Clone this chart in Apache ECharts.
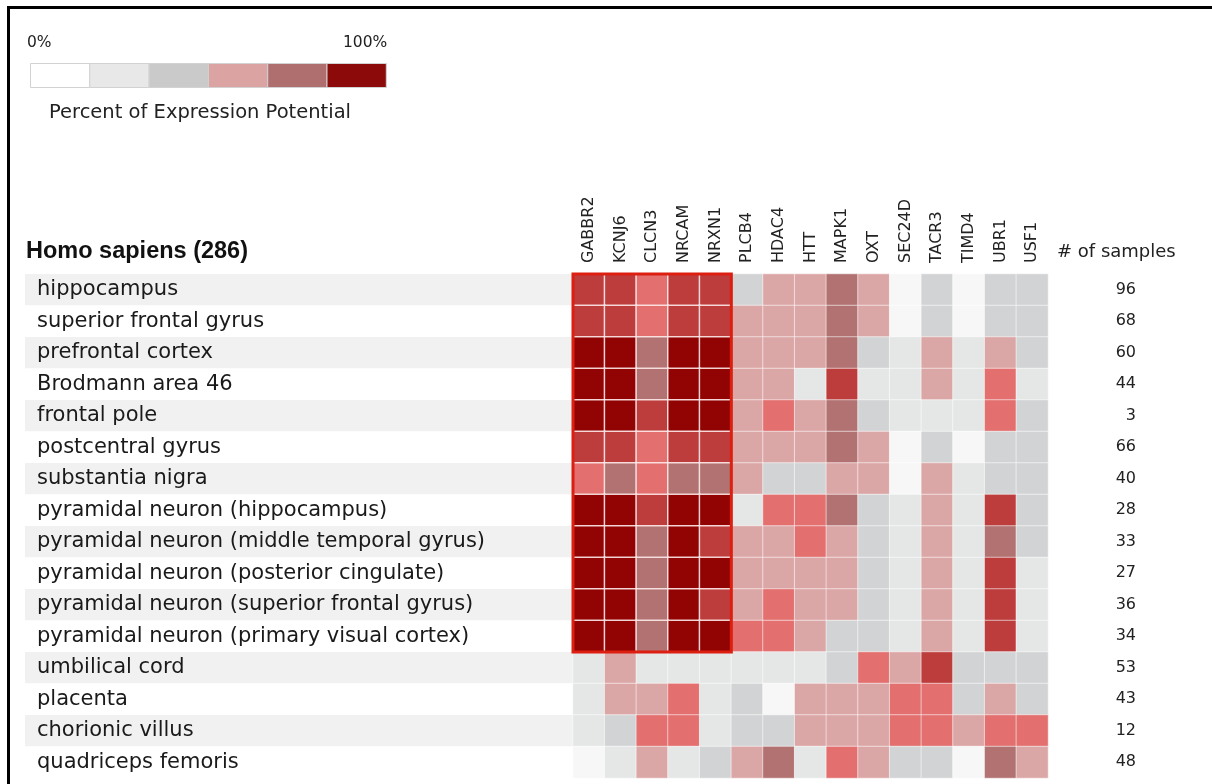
<!DOCTYPE html>
<html>
<head>
<meta charset="utf-8">
<title>Percent of Expression Potential</title>
<script src="https://cdn.jsdelivr.net/npm/echarts@6/dist/echarts.min.js"></script>
<style>
html, body { margin: 0; padding: 0; background: #fff; }
#chart { width: 1212px; height: 784px; }
</style>
</head>
<body>
<div id="chart"></div>
<script>
const genes = ['GABBR2', 'KCNJ6', 'CLCN3', 'NRCAM', 'NRXN1', 'PLCB4', 'HDAC4', 'HTT', 'MAPK1', 'OXT', 'SEC24D', 'TACR3', 'TIMD4', 'UBR1', 'USF1']
const tissues = [
  'hippocampus',
  'superior frontal gyrus',
  'prefrontal cortex',
  'Brodmann area 46',
  'frontal pole',
  'postcentral gyrus',
  'substantia nigra',
  'pyramidal neuron (hippocampus)',
  'pyramidal neuron (middle temporal gyrus)',
  'pyramidal neuron (posterior cingulate)',
  'pyramidal neuron (superior frontal gyrus)',
  'pyramidal neuron (primary visual cortex)',
  'umbilical cord',
  'placenta',
  'chorionic villus',
  'quadriceps femoris'
]
const sampleCounts = [96, 68, 60, 44, 3, 66, 40, 28, 33, 27, 36, 34, 53, 43, 12, 48]

// expression level per tissue row, one value per gene (0 = none ... 7 = highest)
const levels = [
  [6, 6, 4, 6, 6, 2, 3, 3, 5, 3, 0, 2, 0, 2, 2],
  [6, 6, 4, 6, 6, 3, 3, 3, 5, 3, 0, 2, 0, 2, 2],
  [7, 7, 5, 7, 7, 3, 3, 3, 5, 2, 1, 3, 1, 3, 2],
  [7, 7, 5, 7, 7, 3, 3, 1, 6, 1, 1, 3, 1, 4, 1],
  [7, 7, 6, 7, 7, 3, 4, 3, 5, 2, 1, 1, 1, 4, 2],
  [6, 6, 4, 6, 6, 3, 3, 3, 5, 3, 0, 2, 0, 2, 2],
  [4, 5, 4, 5, 5, 3, 2, 2, 3, 3, 0, 3, 1, 2, 2],
  [7, 7, 6, 7, 7, 1, 4, 4, 5, 2, 1, 3, 1, 6, 2],
  [7, 7, 5, 7, 6, 3, 3, 4, 3, 2, 1, 3, 1, 5, 2],
  [7, 7, 5, 7, 7, 3, 3, 3, 3, 2, 1, 3, 1, 6, 1],
  [7, 7, 5, 7, 6, 3, 4, 3, 3, 2, 1, 3, 1, 6, 1],
  [7, 7, 5, 7, 7, 4, 4, 3, 2, 2, 1, 3, 1, 6, 1],
  [1, 3, 1, 1, 1, 1, 1, 1, 2, 4, 3, 6, 2, 2, 2],
  [1, 3, 3, 4, 1, 2, 0, 3, 3, 3, 4, 4, 2, 3, 2],
  [1, 2, 4, 4, 1, 2, 2, 3, 3, 3, 4, 4, 3, 4, 4],
  [0, 1, 3, 1, 2, 3, 5, 1, 4, 3, 2, 2, 0, 5, 3]
]

// highlighted block: first five genes in the twelve brain rows
const highlightGenes = ['GABBR2', 'NRXN1']
const highlightTissues = ['hippocampus', 'pyramidal neuron (primary visual cortex)']

const levelColors = ['#f7f7f7', '#e5e7e7', '#d1d3d4', '#dba6a6', '#e36f6f', '#b27272', '#bd3d3d', '#920404']
const legendColors = ['#ffffff', '#e8e8e8', '#cacaca', '#dca3a3', '#b06f6f', '#8c0a0a']

const textColor = '#222'
const labelFont = 'DejaVu Sans'

const hiX = [genes.indexOf(highlightGenes[0]), genes.indexOf(highlightGenes[1])]
const hiY = [tissues.indexOf(highlightTissues[0]), tissues.indexOf(highlightTissues[1])]

const heatData = []
levels.forEach((row, y) => {
  row.forEach((v, x) => {
    const inBlock = x >= hiX[0] && x <= hiX[1] && y >= hiY[0] && y <= hiY[1]
    heatData.push({
      value: [x, y, v],
      itemStyle: inBlock ? { borderColor: 'rgba(255,236,236,0.85)', borderWidth: 1.5 } : undefined
    })
  })
})

const legendGraphics = legendColors.map((c, i) => {
  return {
    type: 'rect',
    left: 30 + i * 59.3,
    top: 63,
    shape: { width: 59.3, height: 24 },
    style: { fill: c, stroke: '#d2d2d2', lineWidth: 1 }
  }
})

const option = {
  animation: false,
  backgroundColor: '#fff',
  grid: [
    { left: 25, top: 274, width: 1023, height: 504 },
    { left: 573, top: 274, width: 475, height: 504 }
  ],
  xAxis: [
    { gridIndex: 0, type: 'value', min: 0, max: 1, show: false },
    {
      gridIndex: 1,
      type: 'category',
      data: genes,
      position: 'top',
      axisLine: { show: false },
      axisTick: { show: false },
      splitLine: { show: false },
      axisLabel: {
        rotate: -90,
        margin: 11,
        interval: 0,
        color: textColor,
        fontFamily: labelFont,
        fontSize: 16
      }
    }
  ],
  yAxis: [
    {
      gridIndex: 0,
      type: 'category',
      data: tissues,
      inverse: true,
      axisLine: { show: false },
      axisTick: { show: false },
      splitLine: { show: false },
      splitArea: { show: true, areaStyle: { color: ['#f1f1f1', '#ffffff'] } },
      axisLabel: {
        inside: true,
        align: 'left',
        margin: 12,
        interval: 0,
        color: '#1a1a1a',
        fontFamily: labelFont,
        fontSize: 21
      }
    },
    {
      gridIndex: 1,
      type: 'category',
      data: tissues,
      inverse: true,
      show: false
    },
    {
      gridIndex: 1,
      type: 'category',
      data: sampleCounts.map(String),
      inverse: true,
      position: 'right',
      axisLine: { show: false },
      axisTick: { show: false },
      splitLine: { show: false },
      axisLabel: {
        align: 'right',
        margin: 88,
        interval: 0,
        color: textColor,
        fontFamily: labelFont,
        fontSize: 16
      }
    }
  ],
  visualMap: {
    type: 'piecewise',
    show: false,
    seriesIndex: 0,
    dimension: 2,
    pieces: levelColors.map((c, i) => ({ value: i, color: c }))
  },
  series: [
    {
      type: 'heatmap',
      xAxisIndex: 1,
      yAxisIndex: 1,
      data: heatData,
      itemStyle: { borderColor: 'rgba(255,255,255,0.55)', borderWidth: 1 },
      emphasis: { disabled: true }
    }
  ],
  graphic: [
    // page frame
    { type: 'line', shape: { x1: 7, y1: 7.5, x2: 1212, y2: 7.5 }, style: { stroke: '#000', lineWidth: 3 } },
    { type: 'line', shape: { x1: 8.5, y1: 6, x2: 8.5, y2: 784 }, style: { stroke: '#000', lineWidth: 3 } },
    // legend
    ...legendGraphics,
    { type: 'text', left: 27, top: 35, style: { text: '0%', font: '15.5px "DejaVu Sans"', fill: textColor } },
    { type: 'text', left: 343, top: 35, style: { text: '100%', font: '15.5px "DejaVu Sans"', fill: textColor } },
    { type: 'text', left: 49, top: 103, style: { text: 'Percent of Expression Potential', font: '19.5px "DejaVu Sans"', fill: textColor } },
    // headers
    { type: 'text', left: 26, top: 240, style: { text: 'Homo sapiens (286)', font: 'bold 23.5px "Liberation Sans"', fill: '#111' } },
    { type: 'text', left: 1057, top: 243, style: { text: '# of samples', font: '18px "DejaVu Sans"', fill: textColor } }
  ]
}

const chart = echarts.init(document.getElementById('chart'))
chart.setOption(option)

// red frame round the highlighted block, placed from the heatmap's own scales
const a = chart.convertToPixel({ seriesIndex: 0 }, [hiX[0], hiY[0]])
const b = chart.convertToPixel({ seriesIndex: 0 }, [hiX[1], hiY[1]])
const c1 = chart.convertToPixel({ seriesIndex: 0 }, [hiX[0] + 1, hiY[0] + 1])
const cw = c1[0] - a[0]
const ch = c1[1] - a[1]
chart.setOption({
  graphic: [
    {
      id: 'hiFrame',
      type: 'rect',
      z: 100,
      shape: {
        x: a[0] - cw / 2,
        y: a[1] - ch / 2,
        width: b[0] - a[0] + cw,
        height: b[1] - a[1] + ch
      },
      style: { fill: 'none', stroke: '#dc1f10', lineWidth: 3 }
    }
  ]
})
</script>
</body>
</html>
